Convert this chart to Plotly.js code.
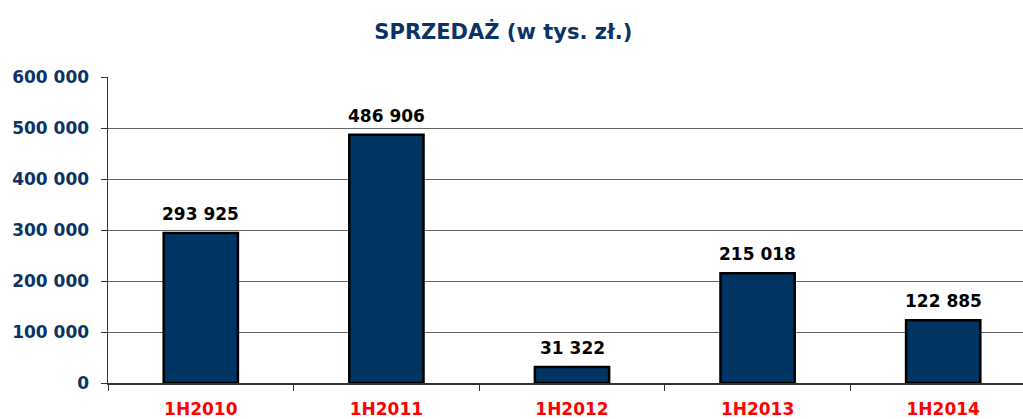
<!DOCTYPE html>
<html><head><meta charset="utf-8">
<script src="https://cdn.plot.ly/plotly-3.0.1.min.js"></script>
<style>html,body{margin:0;padding:0;background:#fff}#c{width:1023px;height:419px}</style>
</head><body><div id="c"></div>
<script>
const categories = ['1H2010','1H2011','1H2012','1H2013','1H2014'];
const sales = [293925, 486906, 31322, 215018, 122885];
const yTicks = [0,100000,200000,300000,400000,500000,600000];

function fmt(v){return String(v).replace(/\B(?=(\d{3})+(?!\d))/g,' ');}

const trace = {
  type:'bar', x:categories, y:sales, width:0.4,
  marker:{color:'#003463', line:{color:'#000000', width:2.5}},
  hoverinfo:'none'
};
const annotations = categories.map((c,i)=>({
  x:c, y:sales[i], xref:'x', yref:'y', text:'<b>'+fmt(sales[i])+'</b>',
  showarrow:false, yanchor:'bottom', yshift:7,
  font:{family:'DejaVu Sans, sans-serif', size:17, color:'#000000'}
}));
const layout = {
  width:1023, height:419,
  margin:{l:108, r:0, t:77, b:36},
  paper_bgcolor:'#ffffff', plot_bgcolor:'#ffffff',
  showlegend:false,
  annotations: annotations,
  title:{text:'<b>SPRZEDAŻ (w tys. zł.)</b>', x:0.492, xanchor:'center', y:0.925, yanchor:'middle',
    font:{family:'DejaVu Sans, sans-serif', size:21, color:'#0B3366'}},
  xaxis:{type:'category', range:[-0.5, 4.43], showgrid:false, showline:true, linecolor:'#333333', linewidth:1.5,
    ticks:'outside', tickson:'boundaries', ticklen:6, tickcolor:'#333333', ticklabelstandoff:10,
    tickfont:{family:'DejaVu Sans, sans-serif', size:17, color:'#FF0000', weight:'bold'}},
  yaxis:{range:[0,600000], tickvals:yTicks, ticktext:yTicks.map(fmt), showgrid:true, gridcolor:'#666666', gridwidth:1,
    showline:true, linecolor:'#333333', linewidth:1.5, ticks:'outside', ticklen:6, tickcolor:'#333333',
    ticklabelstandoff:8, zeroline:false,
    tickfont:{family:'DejaVu Sans, sans-serif', size:17, color:'#0B3366', weight:'bold'}}
};
Plotly.newPlot('c',[trace],layout,{displayModeBar:false,staticPlot:true});
</script></body></html>
